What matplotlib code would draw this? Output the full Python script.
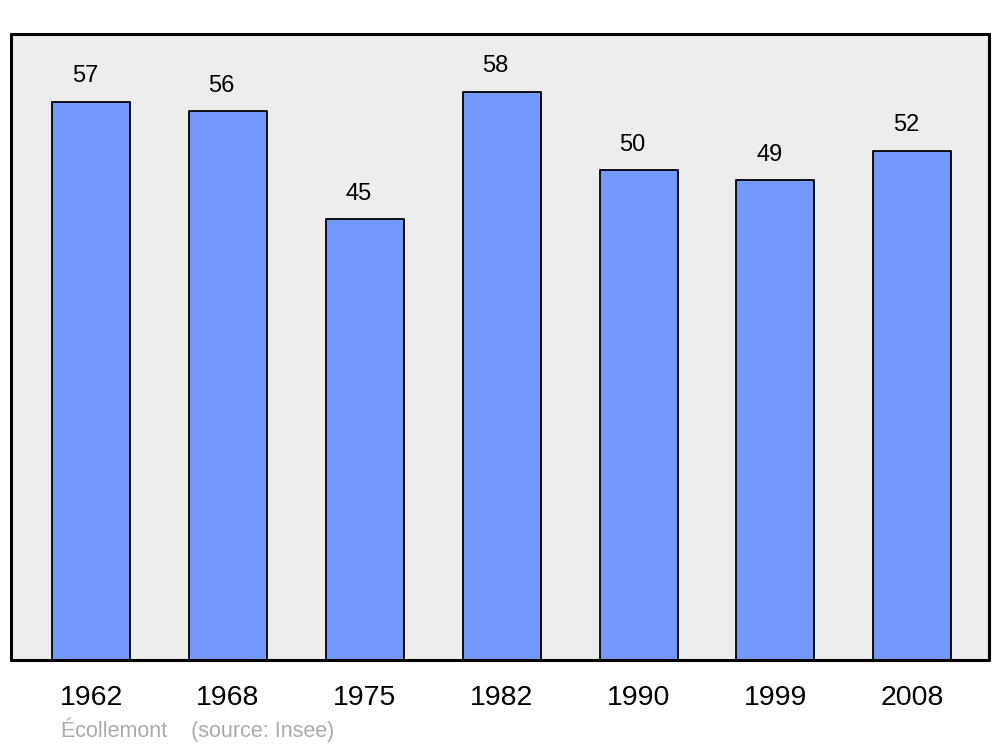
import matplotlib.pyplot as plt
import numpy as np

#-------------------------------------------------------------------------------
# Données : population par recensement
#-------------------------------------------------------------------------------
annees = ['1962', '1968', '1975', '1982', '1990', '1999', '2008']
population = [57, 56, 45, 58, 50, 49, 52]

plt.rcParams['font.family'] = ['Liberation Sans', 'DejaVu Sans']

fig = plt.figure(figsize=(10, 7.47), dpi=100)
ax = fig.add_axes([0.011, 0.1165, 0.978, 0.838])
ax.set_facecolor('#ededed')

x = np.arange(len(annees))
barres = ax.bar(x, population, width=0.57, color='#7399ff',
                edgecolor='black', linewidth=1.3)
for b in barres:
    b.set_joinstyle('round')

for xi, v in zip(x, population):
    ax.annotate(str(v), (xi, v), xytext=(-4.5, 14), textcoords='offset points',
                ha='center', va='baseline', fontsize=17)

ax.set_xlim(-0.585, 6.56)
ax.set_ylim(0, 63.9)
ax.set_yticks([])
ax.set_xticks(x)
ax.set_xticklabels(annees, fontsize=20.5)
ax.tick_params(axis='x', length=0, pad=18)

for s in ax.spines.values():
    s.set_linewidth(2.2)
    s.set_capstyle('round')

fig.text(0.061, 0.0134, 'Écollemont    (source: Insee)', color='#aaaaaa',
         fontsize=15.5, ha='left', va='baseline')

fig.savefig('out.png', dpi=100)
